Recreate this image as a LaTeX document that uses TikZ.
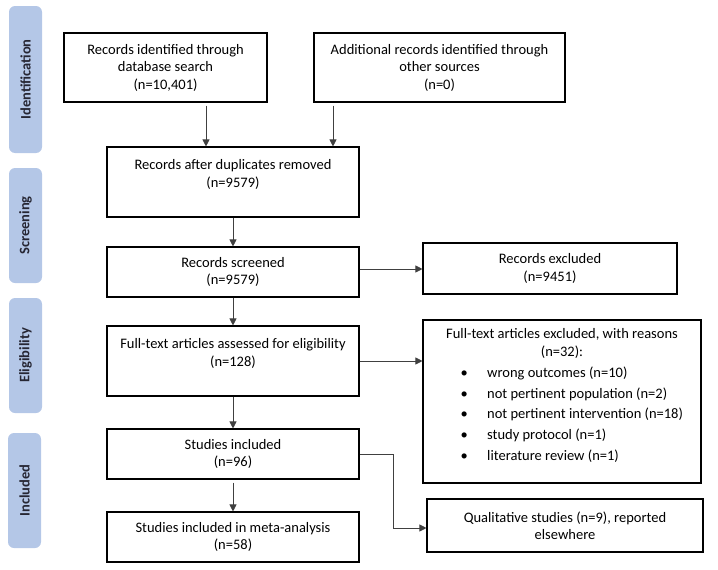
\documentclass[tikz,border=0pt]{standalone}
\usepackage{fontspec}
\setmainfont{Carlito}
\usetikzlibrary{arrows.meta}
\definecolor{sidebar}{HTML}{B4C7E7}
\definecolor{sidetext}{HTML}{262633}
\begin{document}
\begin{tikzpicture}[x=1pt,y=-1pt,
  txt/.style={font=\fontsize{14.5}{17.5}\selectfont},
  box/.style={draw=black, line width=1.1pt, align=center, inner sep=0pt, txt},
  arr/.style={draw=black!75, line width=0.8pt, -{Triangle[width=7pt,length=7pt]}},
  side/.style={fill=sidebar, rounded corners=6pt, inner sep=0pt, rotate=90,
    minimum height=33pt, text=sidetext, font=\fontsize{14.5}{17.5}\selectfont\bfseries}]
\useasboundingbox (0,0) rectangle (718,570);

% side bars
\node[side, minimum width=147pt] (s1) at (25.5,79.5) {Identification};
\node[side, minimum width=115pt] (s2) at (25.5,225.5) {Screening};
\node[side, minimum width=115pt] (s3) at (25.5,355.5) {Eligibility};
\node[side, minimum width=115pt] (s4) at (24.5,490.5) {Included};

% boxes
\node[box, minimum width=203pt, minimum height=69pt] (b1) at (165.5,67.5)
  {Records identified through\\database search\\(n=10,401)};
\node[box, minimum width=251pt, minimum height=69pt] (b2) at (439.5,67.5)
  {Additional records identified through\\other sources\\(n=0)};
\node[box, minimum width=252pt, minimum height=70pt] (b3) at (233,182)
  {Records after duplicates removed\\(n=9579)\\\mbox{}};
\node[box, minimum width=252pt, minimum height=50pt] (b4) at (233,272)
  {Records screened\\(n=9579)};
\node[box, minimum width=252pt, minimum height=70pt] (b5) at (233,361)
  {Full-text articles assessed for eligibility\\(n=128)\\\mbox{}};
\node[box, minimum width=252pt, minimum height=50pt] (b6) at (233,454)
  {Studies included\\(n=96)};
\node[box, minimum width=252pt, minimum height=50pt] (b7) at (233,537)
  {Studies included in meta-analysis\\(n=58)};
\node[box, minimum width=254pt, minimum height=51pt] (e1) at (550,268.5)
  {Records excluded\\(n=9451)};
\node[box, minimum width=278pt, minimum height=163pt] (e2) at (562,401.5) {};
\node[txt, align=center, inner sep=0pt] (e2h) at (562,343.5)
  {Full-text articles excluded, with reasons\\(n=32):};
\node[anchor=west, align=left, inner sep=0pt, font=\fontsize{14.5}{20.7}\selectfont] (e2l) at (460.5,414.5)
  {\makebox[26.5pt][l]{\textbullet}wrong outcomes (n=10)\\
   \makebox[26.5pt][l]{\textbullet}not pertinent population (n=2)\\
   \makebox[26.5pt][l]{\textbullet}not pertinent intervention (n=18)\\
   \makebox[26.5pt][l]{\textbullet}study protocol (n=1)\\
   \makebox[26.5pt][l]{\textbullet}literature review (n=1)};
\node[box, minimum width=276pt, minimum height=53pt] (q) at (565,525.5)
  {Qualitative studies (n=9), reported\\elsewhere};

% connectors
\coordinate (x1) at (206,0);
\coordinate (x2) at (333,0);
\coordinate (xe) at (393,0);
\coordinate (qa) at ([yshift=-2.5pt]q.west);
\draw[arr] ([yshift=-3pt]b1.south -| x1) -- (b3.north -| x1);
\draw[arr] ([yshift=-3pt]b2.south -| x2) -- (b3.north -| x2);
\draw[arr] (b3) -- (b4);
\draw[arr] (b4) -- (b5);
\draw[arr] (b5) -- (b6);
\draw[arr] ([yshift=-3pt]b6.south) -- (b7);
\draw[arr] ([yshift=3pt]b4.east) -- ([yshift=3pt]b4.east -| e1.west);
\draw[arr] (b5.east) -- (b5.east -| e2.west);
\draw[arr] (b6.east) -| (xe |- qa) -- (qa);
\end{tikzpicture}
\end{document}
